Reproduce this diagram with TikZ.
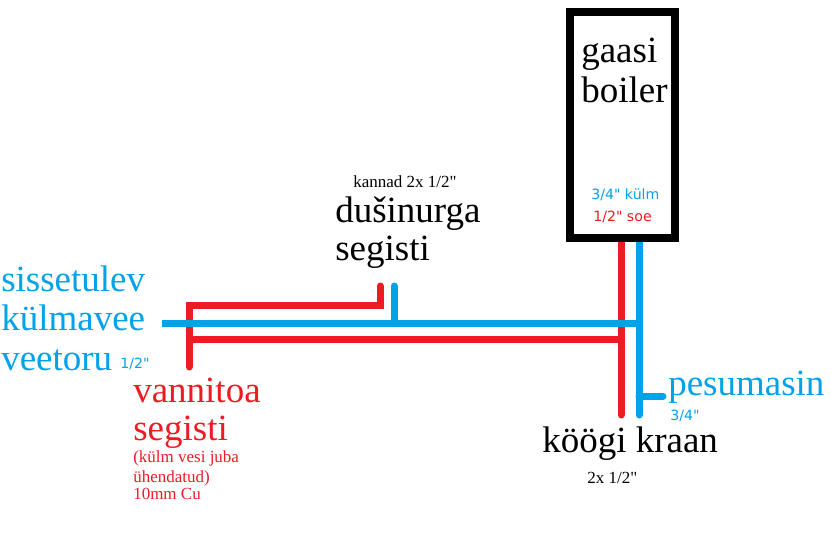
\documentclass[tikz,border=0pt]{standalone}
\usepackage{fontspec}
\setmainfont{Liberation Serif}[Ligatures=TeXOff]
\newfontfamily\sansf{DejaVu Sans}[Ligatures=TeXOff]
\definecolor{pipered}{RGB}{237,28,36}
\definecolor{pipeblue}{RGB}{0,162,232}
\begin{document}
\begin{tikzpicture}[x=0.75pt,y=-0.75pt,
  big/.style={font=\fontsize{27.75}{30}\selectfont, inner sep=0pt, anchor=base west},
  smallser/.style={font=\fontsize{12.75}{14}\selectfont, inner sep=0pt, anchor=base west},
  smallsans/.style={font=\sansf\fontsize{10.6}{12}\selectfont, inner sep=0pt, anchor=base west},
  hot/.style={draw=pipered, line width=5.25pt, line cap=round, line join=miter},
  cold/.style={draw=pipeblue, line width=5.25pt, line cap=round, line join=miter},
  boilerbox/.style={draw=black, line width=6pt, minimum width=78.75pt, minimum height=169.5pt, inner sep=0pt, fill=white}]
\useasboundingbox (0,0) rectangle (831,535);
\fill[white] (0,0) rectangle (831,535);

% pipe coordinates
\coordinate (rA) at (189,367);
\coordinate (rB) at (189,305);
\coordinate (rC) at (380,305);
\coordinate (rD) at (380,286);
\coordinate (rE) at (189,339);
\coordinate (rF) at (621,339);
\coordinate (rTop) at (621,242);
\coordinate (rBot) at (621,415);
\coordinate (bL) at (162,323);
\coordinate (bR) at (639,323);
\coordinate (bS1) at (394,286);
\coordinate (bS2) at (394,323);
\coordinate (bTop) at (639,242);
\coordinate (bBot) at (639,415);
\coordinate (bW1) at (639,396);
\coordinate (bW2) at (663,396);

% hot pipes
\draw[hot] (rA) -- (rB) -- (rC) -- (rD);
\draw[hot, line cap=butt] (rE) -- (rF);
\draw[hot] (rTop) -- (rBot);
% cold pipes
\draw[cold, line cap=butt] (bL) -- (bR);
\draw[cold] (bS1) -- (bS2);
\draw[cold] (bTop) -- (bBot);
\draw[cold] (bW1) -- (bW2);

% boiler
\node[boilerbox] (boiler) at (622.5,125) {};
\node[big] (gaasi) at (581,63) {gaasi};
\node[big] (boilertxt) at (581,103) {boiler};
\node[smallsans, text=pipeblue] (bkylm) at (591,199) {3/4" külm};
\node[smallsans, text=pipered] (bsoe) at (593,221) {1/2" soe};

% shower mixer
\node[smallser] (kannad) at (353,187) {kannad 2x 1/2"};
\node[big] (dus1) at (335,222) {dušinurga};
\node[big] (dus2) at (335,260) {segisti};

% incoming cold water
\node[big, text=pipeblue] (in1) at (1,291) {sissetulev};
\node[big, text=pipeblue] (in2) at (1,330) {külmavee};
\node[big, text=pipeblue] (in3) at (1,370) {veetoru};
\node[smallsans, text=pipeblue] (inSize) at (120,368) {1/2"};

% bathroom mixer
\node[big, text=pipered] (van1) at (133,402) {vannitoa};
\node[big, text=pipered] (van2) at (133,440) {segisti};
\node[smallser, text=pipered] (van3) at (133,462) {(külm vesi juba};
\node[smallser, text=pipered] (van4) at (133,482) {ühendatud)};
\node[smallser, text=pipered] (van5) at (133,499) {10mm Cu};

% washing machine
\node[big, text=pipeblue] (pesu) at (668,395) {pesumasin};
\node[smallsans, text=pipeblue] (pesuSize) at (670,420) {3/4"};

% kitchen tap
\node[big] (kook) at (542,452) {köögi kraan};
\node[smallser] (kookSize) at (587,483) {2x 1/2"};
\end{tikzpicture}
\end{document}
